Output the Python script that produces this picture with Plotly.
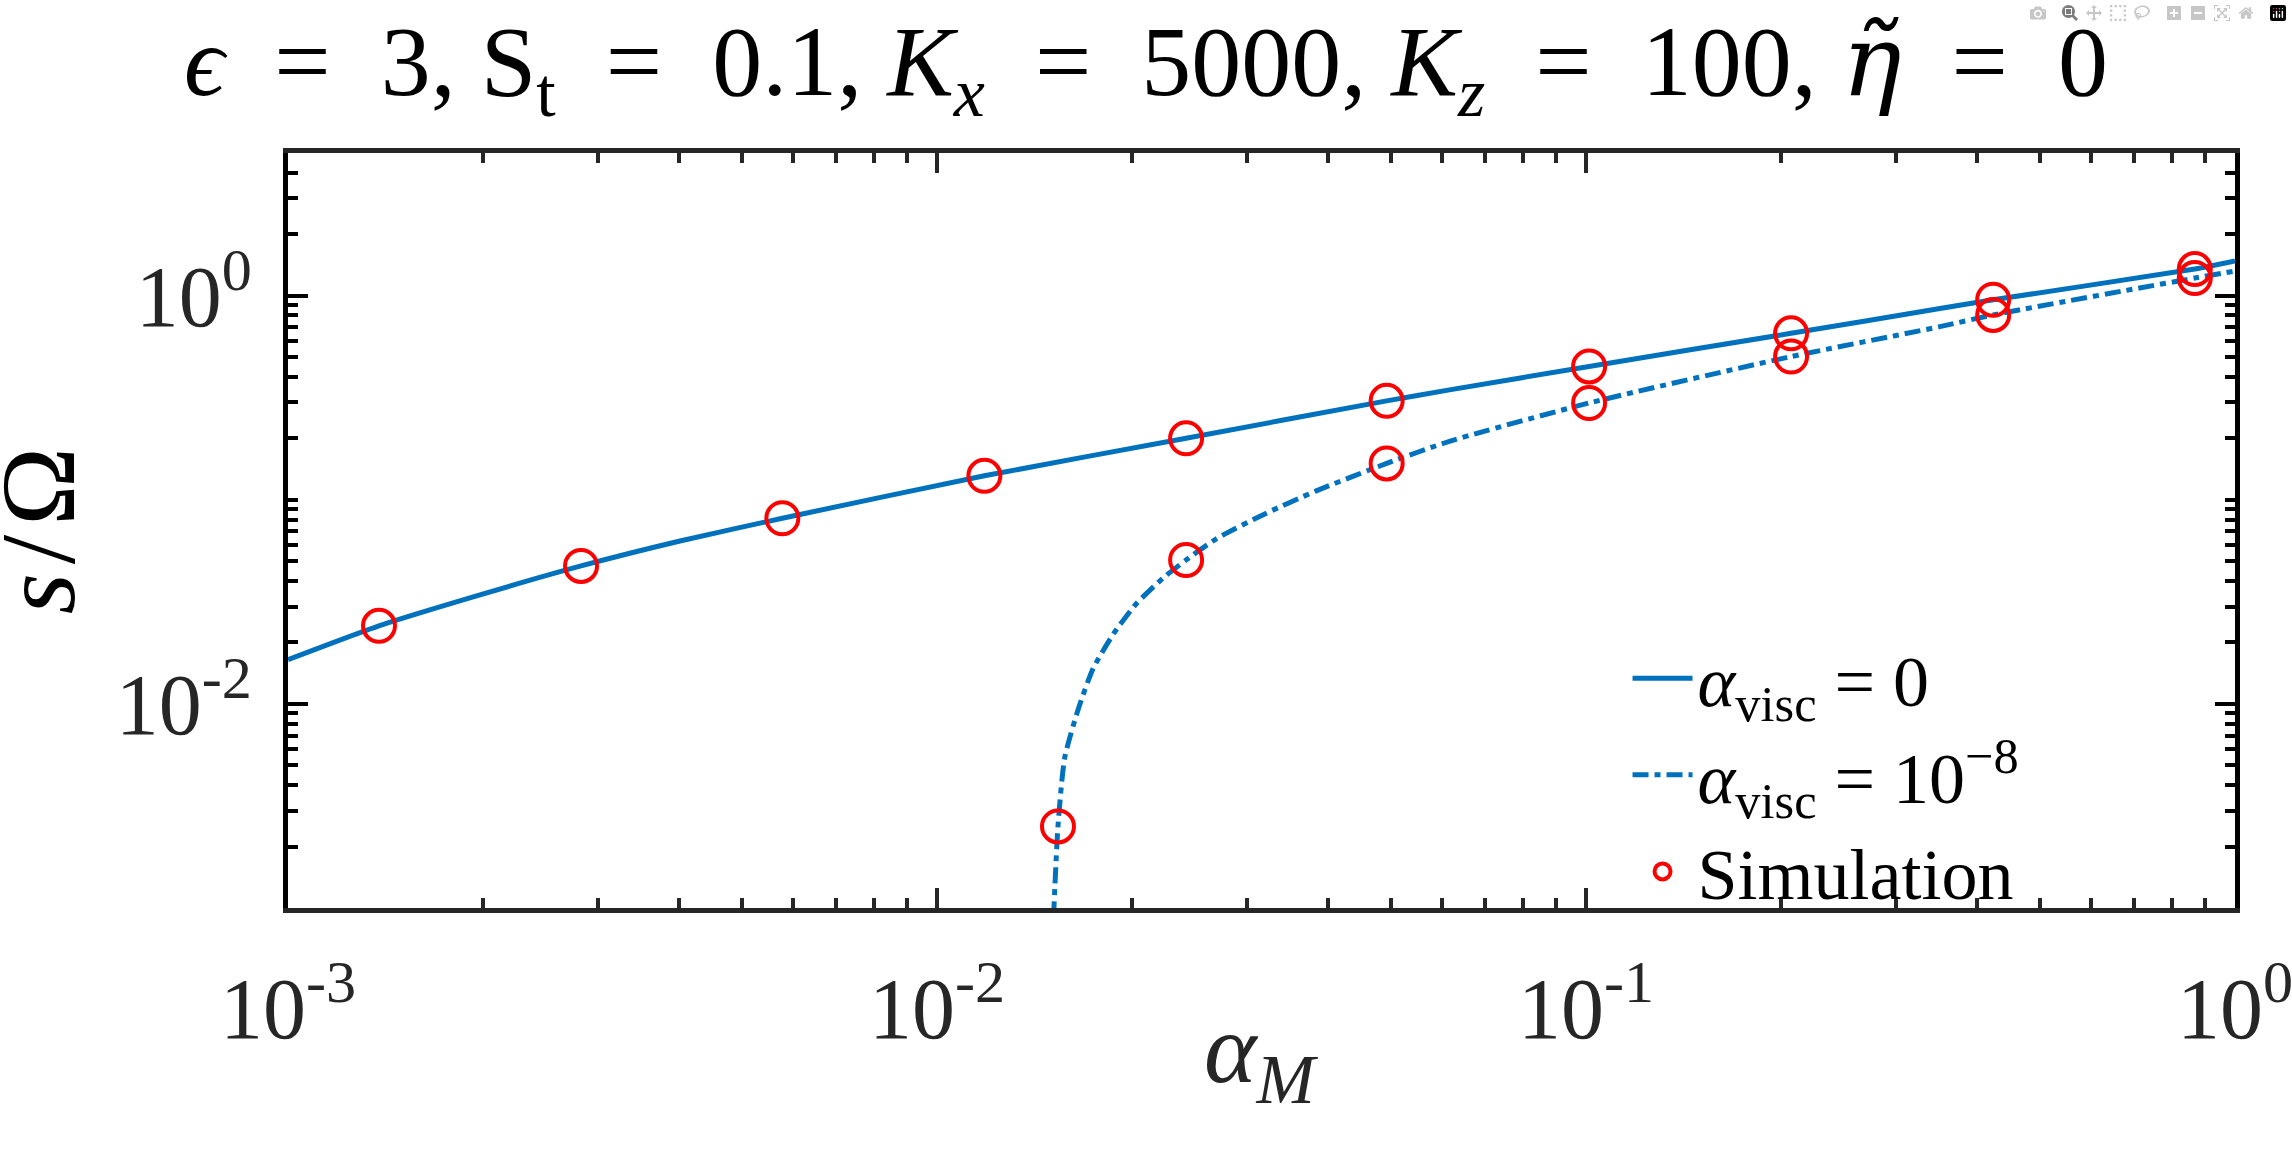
import plotly.graph_objects as go

# growth rate curves
alpha_line0 = [0.001, 0.001381, 0.001976, 0.002828, 0.004018, 0.005777, 0.01183, 0.0242,
               0.0493, 0.0616, 0.1011, 0.207, 0.351, 0.424, 0.867, 1.0]
s_line0 = [0.01647, 0.02412, 0.0342, 0.0474, 0.0628, 0.0812, 0.1311, 0.2001,
           0.3053, 0.3454, 0.450, 0.654, 0.865, 0.955, 1.35, 1.48]

alpha_line8 = [0.01512, 0.01536, 0.01573, 0.01649, 0.01739, 0.01867, 0.02028, 0.02229, 0.0242,
               0.02694, 0.03217, 0.0384, 0.0493, 0.0616, 0.1011, 0.207, 0.351, 0.424, 0.867, 1.0]
s_line8 = [0.0009, 0.00251, 0.00544, 0.00933, 0.01484, 0.02185, 0.03094, 0.0413, 0.0507,
           0.0644, 0.0860, 0.1106, 0.1507, 0.1934, 0.298, 0.503, 0.705, 0.805, 1.22, 1.32]

# simulation points
alpha_sim0 = [0.001381, 0.002828, 0.005777, 0.01183, 0.0242, 0.0493, 0.1011, 0.207, 0.424, 0.867]
s_sim0 = [0.02412, 0.0474, 0.0812, 0.1311, 0.2001, 0.3053, 0.450, 0.654, 0.955, 1.35]
alpha_sim8 = [0.01536, 0.0242, 0.0493, 0.1011, 0.207, 0.424, 0.867]
s_sim8 = [0.00251, 0.0507, 0.1507, 0.298, 0.503, 0.805, 1.22]

xtick_vals = [1e-3, 1e-2, 1e-1, 1]
xtick_text = ["10<sup>-3</sup>", "10<sup>-2</sup>", "10<sup>-1</sup>", "10<sup>0</sup>"]
ytick_vals = [1e-2, 1]
ytick_text = ["10<sup>-2</sup>", "10<sup>0</sup>"]

blue = "#0072BD"
font = "Liberation Serif"
eq = "\u2002=\u2002"

fig = go.Figure()

fig.add_trace(go.Scatter(x=alpha_line0, y=s_line0, mode="lines", line_shape="spline",
                         line=dict(color=blue, width=5, smoothing=0.6),
                         name="<i>α</i><sub>visc</sub> = 0"))
fig.add_trace(go.Scatter(x=alpha_line8, y=s_line8, mode="lines", line_shape="spline",
                         line=dict(color=blue, width=5, smoothing=0.6, dash="16px,6px,6px,6px"),
                         name="<i>α</i><sub>visc</sub> = 10<sup>−8</sup>"))
fig.add_trace(go.Scatter(x=alpha_sim0 + alpha_sim8, y=s_sim0 + s_sim8, mode="markers",
                         marker=dict(symbol="circle-open", size=32, color="#FF0000",
                                     line=dict(width=4, color="#FF0000")),
                         name="Simulation"))

axis_common = dict(
    type="log", showgrid=False, zeroline=False,
    showline=True, linewidth=5, mirror="allticks",
    ticks="inside", ticklen=20, tickwidth=4,
    minor=dict(ticks="inside", ticklen=10, tickwidth=4, dtick="D1"),
    tickfont=dict(family=font, size=86, color="#262626"),
    ticklabeloverflow="allow",
)

fig.update_xaxes(**axis_common, range=[-3, 0], tickvals=xtick_vals, ticktext=xtick_text,
                 linecolor="#262626", tickcolor="#262626", ticklabelstandoff=22)
fig.update_yaxes(**axis_common, range=[-3, 0.699], tickvals=ytick_vals, ticktext=ytick_text,
                 linecolor="#000000", tickcolor="#000000", ticklabelstandoff=14)
fig.update_yaxes(minor_tickcolor="#000000")
fig.update_xaxes(minor_tickcolor="#262626")

title = ("<i>ϵ</i>" + eq + "3, S<sub>t</sub>" + eq + "0.1, <i>K<sub>x</sub></i>" + eq + "5000, "
         "<i>K<sub>z</sub></i>" + eq + "100, "
         "<span style=\"font-family:'DejaVu Serif';font-style:italic\">η̃</span>" + eq + "0")

fig.update_layout(
    width=2292, height=1167,
    template="none",
    paper_bgcolor="white", plot_bgcolor="white",
    margin=dict(l=288, r=57, t=153, b=259),
    title=dict(
        text=title,
        x=0.5, xref="container", y=0.949, yref="container", yanchor="middle",
        font=dict(family=font, size=100, color="black"),
    ),
    legend=dict(x=0.688, y=0.375, xanchor="left", yanchor="top",
                font=dict(family=font, size=72, color="black"),
                bgcolor="rgba(0,0,0,0)", itemwidth=60, tracegroupgap=0),
    annotations=[
        dict(text="<i>α<sub>M</sub></i>", xref="paper", yref="paper", x=0.5, y=-0.195,
             xanchor="center", yanchor="middle", showarrow=False,
             font=dict(family=font, size=100, color="#262626")),
        dict(text="<i>s</i>\u200a/\u200aΩ", xref="paper", yref="paper", x=-0.128, y=0.5,
             xanchor="center", yanchor="middle", showarrow=False, textangle=-90,
             font=dict(family=font, size=106, color="black")),
    ],
)

fig.write_html("out.html", post_script="document.body.style.margin='0';")
